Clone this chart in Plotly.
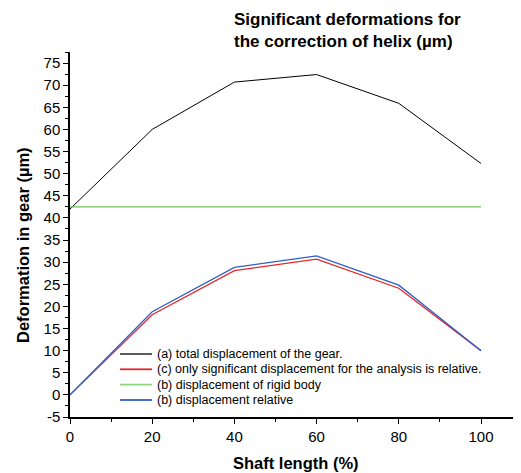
import plotly.graph_objects as go

# ---- data ----
shaft_pct = [0, 20, 40, 60, 80, 100]
total_disp = [42.0, 60.0, 70.7, 72.4, 65.9, 52.3]
only_significant = [0.0, 18.1, 28.1, 30.7, 24.1, 10.0]
rigid_body = [42.5, 42.5, 42.5, 42.5, 42.5, 42.5]
relative_disp = [0.0, 18.8, 28.8, 31.4, 24.8, 10.0]

x_tick_vals = [0, 20, 40, 60, 80, 100]
y_tick_vals = [-5, 0, 5, 10, 15, 20, 25, 30, 35, 40, 45, 50, 55, 60, 65, 70, 75]
y_tick_text = ["-5", "0", "5", "10", "15", "20", "25", "30", "35", "40",
               "45", "50", "55", "60", "65", "70", "75"]

series_names = [
    "(a) total displacement of the gear.",
    "(c) only significant displacement for the analysis is relative.",
    "(b) displacement of rigid body",
    "(b) displacement relative",
]
series_values = [total_disp, only_significant, rigid_body, relative_disp]
line_colors = ["#000000", "#e8262a", "#6cc25a", "#2f5fc4"]
legend_colors = ["#4a4a4a", "#e8262a", "#8fd67f", "#2f5fc4"]
line_widths = [1.0, 1.3, 1.3, 1.3]

title_lines = ["Significant deformations for", "the correction of helix (µm)"]
x_title = "Shaft length (%)"
y_title = "Deformation in gear (µm)"

# the page body adds an 8px offset; size the figure so it ends at the window edge
OFF = 8
WIN_W, WIN_H = 521, 473
W, H = WIN_W - OFF, WIN_H - OFF
L, R, T, B = 70 - OFF, 0, 52 - OFF, 56
PW, PH = W - L - R, H - T - B

FONT = "Liberation Sans, Arial, sans-serif"


def px_x(px):
    return (px - OFF - L) / PW


def px_y(py):
    return (H - B - (py - OFF)) / PH


fig = go.Figure()
for idx in [0, 2, 1, 3]:
    fig.add_trace(go.Scatter(
        x=shaft_pct, y=series_values[idx], mode="lines",
        name=series_names[idx],
        line=dict(color=line_colors[idx], width=line_widths[idx]),
        showlegend=False, cliponaxis=False,
    ))

legend_rows_px = [354, 369.3, 384.6, 400]
shapes = []
annotations = []
for name, col, py in zip(series_names, legend_colors, legend_rows_px):
    shapes.append(dict(type="line", xref="paper", yref="paper",
                       x0=px_x(120), x1=px_x(152), y0=px_y(py), y1=px_y(py),
                       line=dict(color=col, width=1.8)))
    annotations.append(dict(text=name, xref="paper", yref="paper",
                            x=px_x(155), y=px_y(py), xanchor="left", yanchor="middle",
                            showarrow=False, font=dict(family=FONT, size=12.5, color="#000")))

for line, py in zip(title_lines, [19, 41]):
    annotations.append(dict(text="<b>%s</b>" % line, xref="paper", yref="paper",
                            x=px_x(232), y=px_y(py), xanchor="left", yanchor="middle",
                            showarrow=False, font=dict(family=FONT, size=17, color="#000")))

annotations.append(dict(text="<b>%s</b>" % x_title, xref="paper", yref="paper",
                        x=px_x(296), y=px_y(463), xanchor="center", yanchor="middle",
                        showarrow=False, font=dict(family=FONT, size=16.5, color="#000")))
annotations.append(dict(text="<b>%s</b>" % y_title, xref="paper", yref="paper",
                        x=px_x(23), y=px_y(245), xanchor="center", yanchor="middle",
                        textangle=-90, showarrow=False,
                        font=dict(family=FONT, size=16.5, color="#000")))

fig.update_layout(
    width=W, height=H,
    margin=dict(l=L, r=R, t=T, b=B, autoexpand=False),
    paper_bgcolor="white", plot_bgcolor="white",
    font=dict(family=FONT, color="#000"),
    shapes=shapes, annotations=annotations,
    showlegend=False,
)
fig.update_xaxes(
    range=[0, PW / 4.11], tickmode="array", tickvals=x_tick_vals,
    ticks="outside", ticklen=5, tickwidth=1.2, tickcolor="#000",
    minor=dict(ticks="outside", ticklen=3, tick0=0, dtick=10, tickwidth=1.2, tickcolor="#000"),
    showline=True, linecolor="#000", linewidth=1.6,
    showgrid=False, zeroline=False,
    tickfont=dict(family=FONT, size=15, color="#000"),
)
fig.update_yaxes(
    range=[-5, 77.5], tickmode="array", tickvals=y_tick_vals, ticktext=y_tick_text,
    ticks="outside", ticklen=5, tickwidth=1.2, tickcolor="#000",
    minor=dict(ticks="outside", ticklen=3, tick0=0, dtick=2.5, tickwidth=1.2, tickcolor="#000"),
    showline=True, linecolor="#000", linewidth=1.5,
    showgrid=False, zeroline=False,
    tickfont=dict(family=FONT, size=15, color="#000"),
)

fig.write_html("out.html")
